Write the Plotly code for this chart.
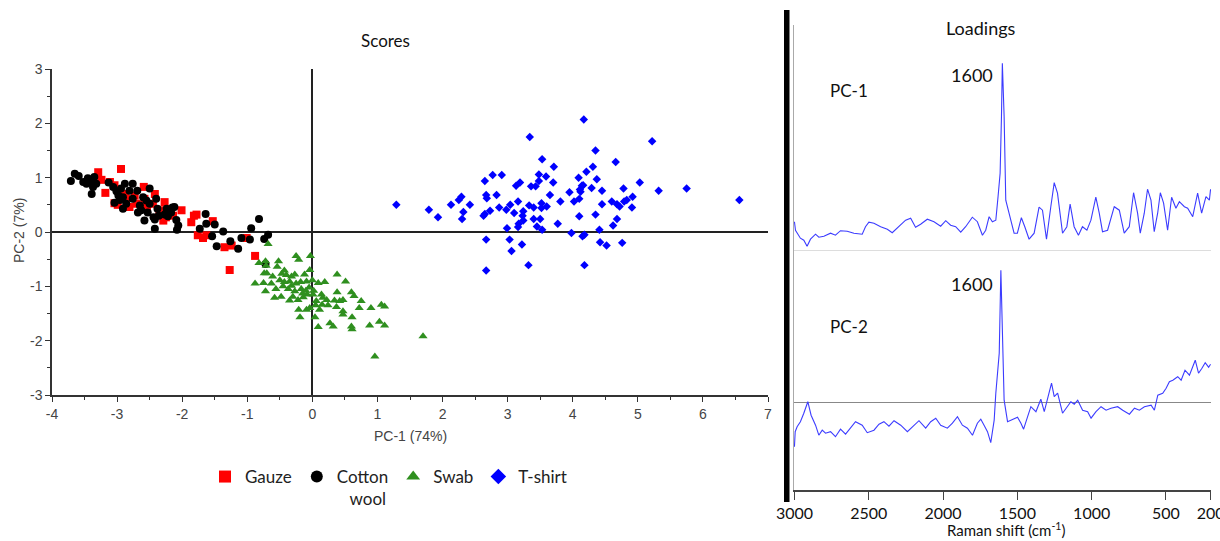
import plotly.graph_objects as go

# ---------------- Scores data (PC-1, PC-2) ----------------
gauze_x = [-3.29, -2.94, -3.24, -3.18, -3.04, -3.04, -2.99, -2.88, -2.81, -2.73, -2.59, -2.58,
           -2.42, -2.45, -2.35, -2.27, -2.29, -2.25, -2.01, -1.86, -1.82, -1.78, -1.76, -1.68,
           -1.63, -1.53, -1.35, -1.24, -1.01, -0.88, -2.70, -2.54, -3.11, -2.86, -2.14, -1.27]
gauze_y = [1.10, 1.16, 0.96, 0.72, 0.86, 0.53, 0.50, 0.70, 0.46, 0.67, 0.83, 0.61,
           0.70, 0.52, 0.40, 0.55, 0.21, 0.27, 0.40, 0.18, 0.30, 0.32, -0.06, -0.11,
           -0.06, 0.20, -0.28, -0.25, -0.11, -0.44, 0.52, 0.46, 0.92, 0.61, 0.30, -0.70]

cotton_x = [-3.71, -3.65, -3.59, -3.47, -3.45, -3.39, -3.37, -3.39, -3.35, -3.13, -3.06, -3.01,
            -2.94, -2.98, -2.88, -3.04, -2.91, -2.86, -2.76, -2.76, -2.69, -2.65, -2.63, -2.60,
            -2.53, -2.50, -2.40, -2.38, -2.36, -2.42, -2.42, -2.27, -2.15, -2.12, -2.17, -2.09,
            -2.06, -2.08, -1.73, -1.64, -1.63, -1.50, -1.54, -1.47, -1.37, -1.26, -1.14, -1.09,
            -0.94, -0.96, -0.82, -0.74, -0.68, -2.81, -2.55, -2.68, -2.96, -2.50, -2.91, -2.44,
            -2.58, -2.24, -2.22, -3.52, -3.32, -0.72]
cotton_y = [0.94, 1.07, 1.03, 0.89, 0.99, 0.95, 0.83, 0.70, 1.01, 0.91, 0.83, 0.75,
            0.80, 0.67, 0.89, 0.54, 0.64, 0.52, 0.61, 0.89, 0.76, 0.49, 0.40, 0.64,
            0.36, 0.52, 0.61, 0.43, 0.30, 0.23, 0.06, 0.32, 0.45, 0.46, 0.36, 0.22,
            0.12, 0.04, 0.06, 0.33, 0.15, 0.14, -0.08, -0.26, 0.01, -0.17, -0.31, -0.11,
            0.07, -0.14, 0.24, -0.13, -0.05, 0.76, 0.58, 0.36, 0.59, 0.80, 0.43, 0.27,
            0.21, 0.43, 0.29, 0.92, 0.89, -0.59]

swab_x = [-0.68, -0.82, -0.72, -0.71, -0.25, -0.21, -0.03, -0.52, -0.54, -0.43, -0.74, -0.70,
          -0.61, -0.47, -0.40, -0.32, -0.27, -0.12, -0.04, -0.88, -0.75, -0.63, -0.50, -0.43,
          -0.35, -0.25, -0.18, -0.09, 0.00, -0.72, -0.56, -0.45, -0.37, -0.27, -0.17, -0.10,
          -0.05, 0.09, 0.19, 0.38, 0.51, -0.58, -0.48, -0.35, -0.30, -0.22, -0.14, -0.08,
          0.02, 0.14, 0.16, 0.06, 0.22, 0.38, 0.47, 0.60, 0.64, 0.75, -0.21, -0.09,
          -0.04, 0.05, 0.11, 0.24, 0.34, 0.37, 0.47, 0.47, 0.61, 0.72, 0.90, 1.06,
          1.11, -0.19, 0.04, 0.27, 0.32, 0.09, 0.60, 0.61, 0.88, 1.03, 1.11, 1.70,
          0.96, 0.42, 0.15, 0.01, -0.15, -0.32]
swab_y = [-0.22, -0.57, -0.54, -0.62, -0.44, -0.51, -0.44, -0.54, -0.64, -0.71, -0.76, -0.76,
          -0.82, -0.77, -0.79, -0.82, -0.78, -0.78, -0.70, -0.95, -0.94, -0.95, -0.89, -0.92,
          -0.91, -0.95, -0.92, -0.91, -0.89, -1.09, -1.05, -1.00, -1.05, -1.09, -1.05, -1.08,
          -1.02, -0.94, -0.92, -0.78, -0.91, -1.21, -1.19, -1.26, -1.19, -1.25, -1.20, -1.15,
          -1.08, -1.15, -1.21, -1.27, -1.25, -1.11, -1.25, -1.11, -1.18, -1.27, -1.43, -1.43,
          -1.40, -1.35, -1.43, -1.35, -1.26, -1.38, -1.46, -1.52, -1.57, -1.40, -1.40, -1.34,
          -1.37, -1.57, -1.57, -1.68, -1.74, -1.75, -1.74, -1.79, -1.72, -1.65, -1.72, -1.92,
          -2.29, -1.27, -1.34, -1.15, -1.13, -0.99]

tshirt_x = [1.29, 1.79, 1.93, 2.13, 2.25, 2.29, 2.32, 2.30, 2.42, 2.65, 2.67, 2.68,
            2.83, 2.77, 2.91, 2.63, 2.65, 2.73, 2.87, 2.98, 3.04, 3.10, 3.16, 3.13,
            3.19, 3.24, 3.23, 3.24, 3.17, 3.16, 2.99, 2.67, 3.03, 3.06, 3.22, 2.67,
            3.32, 3.34, 3.36, 3.43, 3.48, 3.53, 3.48, 3.59, 3.70, 3.71, 3.65, 3.33,
            3.40, 3.52, 3.60, 3.52, 3.40, 3.50, 3.45, 3.53, 3.77, 3.81, 3.95, 4.02,
            4.09, 4.14, 4.12, 4.10, 4.16, 4.21, 4.17, 4.31, 4.35, 4.37, 4.29, 4.45,
            4.45, 4.35, 4.10, 3.98, 4.15, 4.18, 4.41, 4.42, 4.52, 4.18, 4.60, 4.66,
            4.68, 4.72, 4.68, 4.62, 4.76, 4.78, 4.79, 4.83, 4.91, 4.92, 5.03, 5.22,
            5.32, 5.75, 6.56, 4.11]
tshirt_y = [0.50, 0.41, 0.27, 0.50, 0.59, 0.65, 0.37, 0.24, 0.50, 0.94, 0.68, 0.62,
            0.68, 1.05, 1.05, 0.30, 0.33, 0.39, 0.45, 0.41, 0.50, 0.35, 0.56, 0.85,
            0.91, 0.38, 0.30, 0.21, 0.15, 0.09, 0.07, -0.14, -0.14, -0.35, -0.23, -0.71,
            -0.61, 1.75, 0.84, 0.84, 1.06, 1.34, 0.94, 1.02, 0.91, 1.20, 0.68, 0.49,
            0.45, 0.53, 0.47, 0.44, 0.24, 0.24, 0.10, 0.04, 0.15, 0.56, 0.73, 0.56,
            1.00, 0.85, 0.74, 0.61, 0.86, 1.11, 2.07, 1.20, 1.50, 0.97, 0.81, 0.76,
            0.51, 0.32, 0.29, -0.02, -0.08, -0.05, 0.04, -0.19, -0.25, -0.61, 0.56, 1.29,
            0.51, 0.47, 0.24, 0.12, -0.20, 0.80, 0.56, 0.59, 0.45, 0.65, 0.91, 1.67,
            0.76, 0.80, 0.59, 0.78]

score_xticks = [-4, -3, -2, -1, 0, 1, 2, 3, 4, 5, 6, 7]
score_xlabels = ["-4", "-3", "-2", "-1", "0", "1", "2", "3", "4", "5", "6", "7"]
score_yticks = [-3, -2, -1, 0, 1, 2, 3]
score_ylabels = ["-3", "-2", "-1", "0", "1", "2", "3"]

# ---------------- Loadings data ----------------
pc1_shift = [3000, 2993, 2960, 2937, 2915, 2892, 2858, 2836, 2802, 2757, 2724, 2690, 2645, 2600,
             2544, 2522, 2499, 2465, 2420, 2375, 2342, 2297, 2252, 2218, 2185, 2151, 2106, 2061,
             2016, 1982, 1949, 1915, 1881, 1848, 1803, 1769, 1735, 1713, 1690, 1668, 1645, 1630,
             1616, 1607, 1601, 1589, 1578, 1556, 1522, 1500, 1473, 1450, 1421, 1387, 1354, 1331,
             1304, 1275, 1252, 1230, 1196, 1167, 1145, 1118, 1089, 1062, 1032, 1005, 972, 949,
             927, 893, 848, 814, 781, 747, 718, 691, 673, 646, 624, 601, 579, 556, 538, 516,
             489, 462, 433, 410, 376, 354, 320, 287, 260, 231, 208, 200]
pc1_loading = [0.058, 0.041, 0.025, 0.021, 0.009, 0.023, 0.033, 0.027, 0.029, 0.035, 0.031, 0.040,
               0.039, 0.035, 0.033, 0.048, 0.057, 0.055, 0.048, 0.043, 0.036, 0.048, 0.061, 0.065,
               0.047, 0.053, 0.063, 0.058, 0.049, 0.060, 0.051, 0.048, 0.037, 0.048, 0.067, 0.058,
               0.031, 0.041, 0.068, 0.058, 0.061, 0.108, 0.155, 0.268, 0.375, 0.268, 0.101, 0.075,
               0.035, 0.035, 0.066, 0.048, 0.023, 0.035, 0.087, 0.081, 0.023, 0.088, 0.136, 0.115,
               0.035, 0.048, 0.093, 0.048, 0.031, 0.048, 0.041, 0.061, 0.107, 0.075, 0.038, 0.041,
               0.088, 0.081, 0.035, 0.048, 0.116, 0.075, 0.035, 0.075, 0.123, 0.101, 0.038, 0.075,
               0.116, 0.095, 0.041, 0.107, 0.085, 0.098, 0.088, 0.085, 0.068, 0.115, 0.075, 0.108,
               0.101, 0.123]

pc2_shift = [3000, 2995, 2982, 2960, 2937, 2910, 2888, 2858, 2836, 2813, 2791, 2757, 2724, 2690,
             2656, 2622, 2589, 2544, 2510, 2465, 2431, 2398, 2364, 2330, 2285, 2240, 2196, 2162,
             2117, 2083, 2049, 2016, 1971, 1937, 1903, 1870, 1836, 1802, 1769, 1746, 1724, 1701,
             1679, 1656, 1645, 1634, 1622, 1611, 1600, 1589, 1566, 1533, 1499, 1476, 1458, 1431,
             1409, 1375, 1342, 1319, 1297, 1270, 1252, 1229, 1196, 1162, 1140, 1117, 1094, 1061,
             1027, 1004, 971, 937, 903, 870, 825, 791, 746, 712, 679, 645, 600, 578, 555, 522,
             499, 477, 454, 421, 398, 372, 342, 303, 281, 258, 236, 213, 200]
pc2_loading = [-0.088, -0.058, -0.048, -0.038, -0.021, 0.002, -0.025, -0.045, -0.065, -0.055,
               -0.061, -0.058, -0.068, -0.053, -0.063, -0.051, -0.038, -0.045, -0.060, -0.055,
               -0.043, -0.038, -0.047, -0.036, -0.045, -0.058, -0.045, -0.036, -0.051, -0.038,
               -0.031, -0.045, -0.051, -0.041, -0.028, -0.045, -0.051, -0.065, -0.041, -0.033,
               -0.045, -0.058, -0.080, -0.035, 0.019, 0.065, 0.099, 0.265, 0.152, 0.005,
               -0.038, -0.033, -0.029, -0.041, -0.053, -0.028, -0.008, -0.018, 0.007, -0.018,
               0.009, 0.039, 0.012, 0.019, -0.021, -0.008, 0.002, -0.003, 0.005, -0.015,
               -0.018, -0.031, -0.018, -0.008, -0.015, -0.011, -0.008, -0.015, -0.023, -0.011,
               -0.015, -0.008, -0.005, -0.015, 0.015, 0.019, 0.029, 0.042, 0.045, 0.052,
               0.045, 0.065, 0.055, 0.085, 0.059, 0.069, 0.080, 0.071, 0.077]

raman_ticks = [3000, 2500, 2000, 1500, 1000, 500, 200]
raman_labels = ["3000", "2500", "2000", "1500", "1000", "500", "200"]

# ---------------- figure ----------------
W, H = 1220, 541
def px(x):
    return x / W
def py(y):
    return 1 - y / H

fig = go.Figure()

fig.add_trace(go.Scatter(x=gauze_x, y=gauze_y, mode="markers", name="Gauze",
                         marker=dict(symbol="square", size=8, color="#ff0000"),
                         xaxis="x", yaxis="y"))
fig.add_trace(go.Scatter(x=cotton_x, y=cotton_y, mode="markers",
                         name="Cotton<br>\u00a0\u00a0\u00a0wool",
                         marker=dict(symbol="circle", size=8, color="#000000"),
                         xaxis="x", yaxis="y"))
fig.add_trace(go.Scatter(x=swab_x, y=swab_y, mode="markers", name="Swab",
                         marker=dict(symbol="triangle-up", size=8, color="#2f8f1f"),
                         xaxis="x", yaxis="y"))
fig.add_trace(go.Scatter(x=tshirt_x, y=tshirt_y, mode="markers", name="T-shirt",
                         marker=dict(symbol="diamond", size=6.5, color="#0000ff"),
                         xaxis="x", yaxis="y"))

fig.add_trace(go.Scatter(x=pc1_shift, y=pc1_loading, mode="lines", showlegend=False,
                         line=dict(color="#3c3cff", width=1.1), xaxis="x2", yaxis="y2"))
fig.add_trace(go.Scatter(x=pc2_shift, y=pc2_loading, mode="lines", showlegend=False,
                         line=dict(color="#3c3cff", width=1.1), xaxis="x2", yaxis="y3"))

tickfont_scores = dict(family="Liberation Sans, Arial", size=14, color="#444444")
tickfont_load = dict(family="Lato, Liberation Sans", size=16, color="#111111")

fig.update_layout(
    width=W, height=H,
    margin=dict(l=0, r=0, t=0, b=0),
    paper_bgcolor="white", plot_bgcolor="white",
    showlegend=True,
    legend=dict(orientation="h", x=px(205), y=py(459), xanchor="left", yanchor="top",
                font=dict(family="Lato, Liberation Sans", size=17, color="#222222"),
                itemsizing="constant", valign="top", bgcolor="rgba(0,0,0,0)",
                borderwidth=0, itemclick=False),
    xaxis=dict(domain=[px(52), px(768)], range=[-4, 7], anchor="y",
               showline=True, linecolor="#333333", linewidth=1.5, mirror=False,
               ticks="outside", ticklen=5, tickwidth=1.2, tickcolor="#333333",
               tickvals=score_xticks, ticktext=score_xlabels, tickfont=tickfont_scores,
               minor=dict(ticks="outside", ticklen=3, dtick=0.5, tickcolor="#333333"),
               showgrid=False, zeroline=True, zerolinecolor="#222222", zerolinewidth=1.5,
               automargin=False),
    yaxis=dict(domain=[py(395), py(69)], range=[-3, 3], anchor="x",
               showline=True, linecolor="#333333", linewidth=1.5,
               ticks="outside", ticklen=5, tickwidth=1.2, tickcolor="#333333",
               tickvals=score_yticks, ticktext=score_ylabels, tickfont=tickfont_scores,
               minor=dict(ticks="outside", ticklen=3, dtick=0.5, tickcolor="#333333"),
               showgrid=False, zeroline=True, zerolinecolor="#222222", zerolinewidth=1.5,
               automargin=False),
    xaxis2=dict(domain=[px(794), px(1211)], range=[3003, 197], anchor="y3",
                showline=True, linecolor="#444444", linewidth=1.5,
                ticks="outside", ticklen=8, tickwidth=1.2, tickcolor="#444444",
                tickvals=raman_ticks, ticktext=raman_labels, tickfont=tickfont_load,
                ticklabeloverflow="allow",
                showgrid=False, zeroline=False, automargin=False),
    yaxis2=dict(domain=[py(260), py(25)], range=[-0.0186, 0.4514], anchor="x2",
                showline=True, linecolor="#aaaaaa", linewidth=1,
                showticklabels=False, ticks="", showgrid=False,
                zeroline=True, zerolinecolor="#dddddd", zerolinewidth=1, automargin=False),
    yaxis3=dict(domain=[py(490), py(260)], range=[-0.1746, 0.2854], anchor="x2",
                showline=True, linecolor="#aaaaaa", linewidth=1,
                showticklabels=False, ticks="", showgrid=False,
                zeroline=True, zerolinecolor="#888888", zerolinewidth=1, automargin=False),
)

# thick divider bar
fig.add_shape(type="rect", xref="paper", yref="paper",
              x0=px(784), x1=px(789.5), y0=py(502), y1=py(10),
              fillcolor="black", line=dict(width=0), layer="above")

ann_font = dict(family="Lato, Liberation Sans", color="#111111")
annotations = [
    dict(text="Scores", x=px(385), y=py(41), size=17, fam=ann_font),
    dict(text="Loadings", x=px(981), y=py(28), size=18, fam=ann_font),
    dict(text="PC-1", x=px(849), y=py(90), size=17, fam=ann_font),
    dict(text="1600", x=px(972), y=py(75), size=18, fam=ann_font),
    dict(text="PC-2", x=px(849), y=py(326), size=17, fam=ann_font),
    dict(text="1600", x=px(972), y=py(284), size=18, fam=ann_font),
    dict(text="Raman shift (cm<sup>-1</sup>)", x=px(1006), y=py(529), size=15, fam=ann_font),
    dict(text="PC-1 (74%)", x=px(410), y=py(436), size=14,
         fam=dict(family="Liberation Sans, Arial", color="#444444")),
]
for a in annotations:
    fig.add_annotation(text=a["text"], x=a["x"], y=a["y"], xref="paper", yref="paper",
                       xanchor="center", yanchor="middle", showarrow=False,
                       font=dict(size=a["size"], **a["fam"]))

fig.add_annotation(text="PC-2 (7%)", x=px(19), y=py(231), xref="paper", yref="paper",
                   xanchor="center", yanchor="middle", showarrow=False, textangle=-90,
                   font=dict(family="Liberation Sans, Arial", size=14, color="#444444"))

fig.write_html("out.html")
